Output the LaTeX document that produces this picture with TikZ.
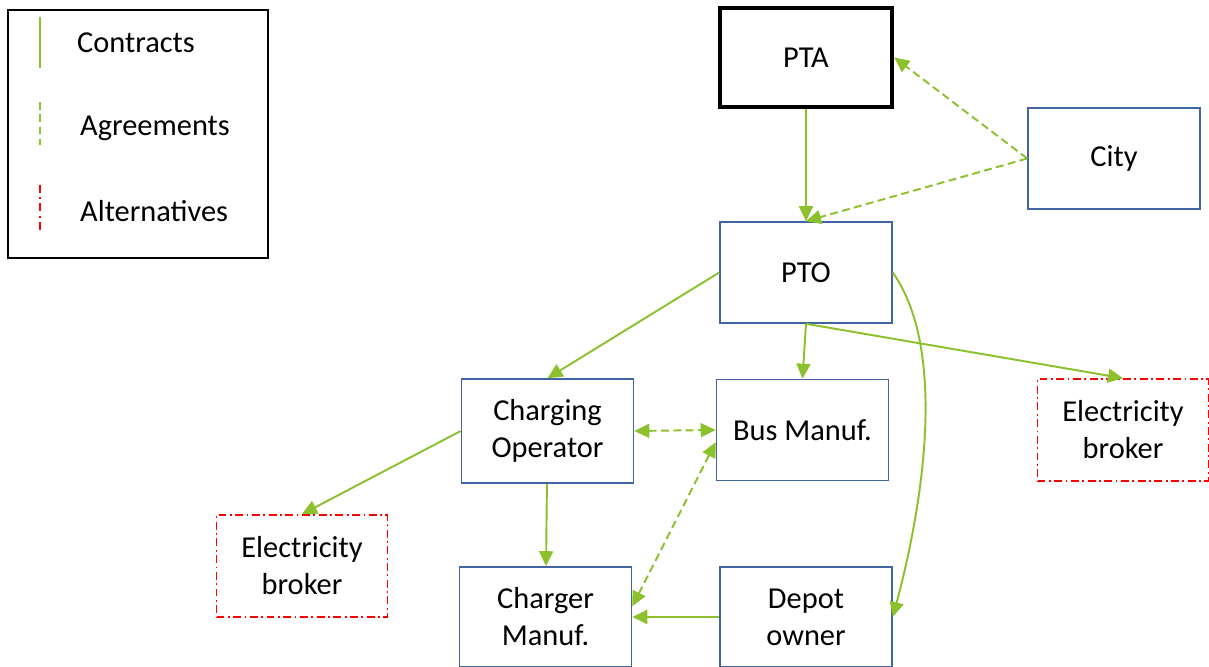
\documentclass[tikz,border=0pt]{standalone}
\usepackage{fontspec}
\setmainfont{Carlito}
\usetikzlibrary{arrows.meta}
\definecolor{linkgreen}{RGB}{140,193,45}
\definecolor{boxblue}{RGB}{65,100,165}
\definecolor{altred}{RGB}{255,0,0}

\begin{document}
\begin{tikzpicture}[>={Triangle[length=0.3cm,width=0.28cm]},
  every node/.style={font=\fontsize{17.3}{21}\selectfont, align=center},
  box/.style={draw=boxblue, line width=0.9pt, minimum width=3.44cm, minimum height=2.02cm},
  altbox/.style={draw=altred, line width=0.9pt, dash pattern=on 4.5pt off 2pt on 1pt off 2pt,
    minimum width=3.42cm, minimum height=2.04cm},
  contract/.style={draw=linkgreen, line width=1.1pt},
  agreement/.style={contract, dash pattern=on 4.5pt off 2.5pt},
  alternative/.style={draw=altred, line width=1.1pt, dash pattern=on 4.5pt off 2.5pt on 1pt off 2.5pt}]
  \useasboundingbox (0,0) rectangle (24.18,13.34);

  % legend
  \node[draw, line width=0.8pt, minimum width=5.2cm, minimum height=4.96cm] (legend) at (2.76,10.66) {};
  \coordinate (ct1) at (0.8,13.0);
  \coordinate (ct2) at (0.8,11.98);
  \coordinate (ag1) at (0.8,11.3);
  \coordinate (ag2) at (0.8,10.44);
  \coordinate (al1) at (0.8,9.64);
  \coordinate (al2) at (0.8,8.74);
  \draw[contract] (ct1) -- (ct2);
  \draw[agreement] (ag1) -- (ag2);
  \draw[alternative] (al1) -- (al2);
  \node[anchor=west] (ctlabel) at (1.42,12.48) {Contracts};
  \node[anchor=west] (aglabel) at (1.48,10.78) {Agreements};
  \node[anchor=west] (allabel) at (1.48,9.12) {Alternatives};

  % actors
  \node[draw, line width=2.6pt, minimum width=3.44cm, minimum height=1.98cm] (PTA) at (16.12,12.19) {PTA};
  \node[box] (City) at (22.28,10.17) {City};
  \node[box] (PTO)  at (16.12,7.89)  {PTO};
  \node[box, minimum height=2.08cm] (CO) at (10.95,4.72) {Charging\\Operator};
  \node[box] (BusM) at (16.05,4.74)  {Bus Manuf.};
  \node[altbox] (EBr) at (22.46,4.74) {Electricity\\broker};
  \node[altbox] (EBl) at (6.04,2.02)  {Electricity\\broker};
  \node[box, minimum height=2.0cm] (CharM) at (10.91,1.0) {Charger\\Manuf.};
  \node[box, minimum height=2.0cm] (Depot) at (16.12,1.0) {Depot\\owner};

  % contracts
  \draw[contract, ->] (PTA) -- (PTO);
  \draw[contract, ->] (PTO.west) -- (CO.north);
  \draw[contract, ->] (PTO.south) -- (BusM.north);
  \draw[contract, ->] (PTO.south) -- (EBr.north);
  \draw[contract, ->] (PTO.east) to[out=-55, in=75, looseness=0.75] (Depot.east);
  \draw[contract, ->] (CO.west) -- (EBl.north);
  \draw[contract, ->] (CO) -- (CharM);
  \draw[contract, ->] (Depot.west) -- (CharM.east);

  % agreements
  \draw[agreement, ->] (City.west) -- (PTA.east);
  \draw[agreement, ->] (City.west) -- (PTO.north);
  \draw[agreement, <->] (CO.east) -- (BusM.west);
  \draw[agreement, <->] (BusM.188) -- (CharM.7);
\end{tikzpicture}
\end{document}
